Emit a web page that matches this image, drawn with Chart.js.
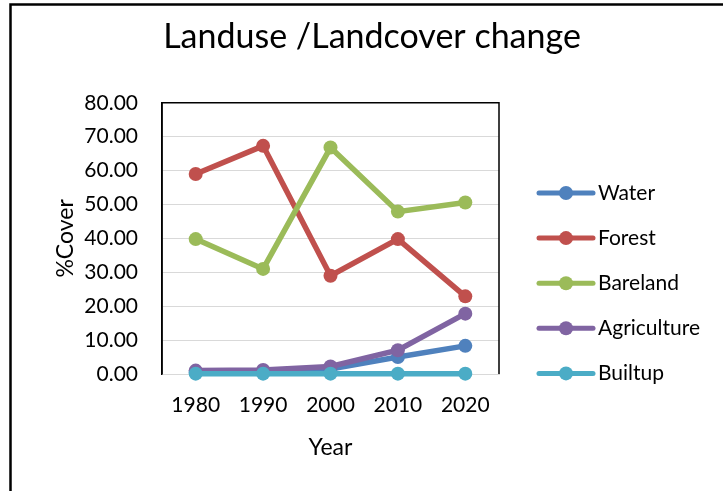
<!DOCTYPE html>
<html>
<head>
<meta charset="utf-8">
<title>Landuse /Landcover change</title>
<script src="https://cdn.jsdelivr.net/npm/chart.js@4"></script>
<style>
  html, body { margin: 0; padding: 0; background: #fff; }
  canvas { display: block; }
</style>
</head>
<body>
<canvas id="landChart" width="723" height="491"></canvas>
<script>
// data
const years = ["1980", "1990", "2000", "2010", "2020"];
const water = [0.5, 0.7, 1.5, 5.0, 8.3];
const forest = [59.0, 67.3, 29.0, 39.8, 22.9];
const bareland = [39.8, 31.0, 66.8, 47.9, 50.6];
const agriculture = [1.0, 1.2, 2.2, 7.0, 17.8];
const builtup = [0.1, 0.1, 0.1, 0.1, 0.1];
const yTicks = [0, 10, 20, 30, 40, 50, 60, 70, 80];

const FONT = "Lato";

// excel 2010 colours
const series = [
  { label: "Water", data: water, color: "#4F81BD" },
  { label: "Forest", data: forest, color: "#C0504D" },
  { label: "Bareland", data: bareland, color: "#9BBB59" },
  { label: "Agriculture", data: agriculture, color: "#8064A2" },
  { label: "Builtup", data: builtup, color: "#4BACC6" },
];

// frame around the whole chart + plot area border
const framePlugin = {
  id: "frame",
  beforeDatasetsDraw(chart) {
    const { ctx, chartArea: a } = chart;
    ctx.save();
    ctx.strokeStyle = "#000";
    ctx.lineWidth = 1.5;
    ctx.beginPath();
    ctx.moveTo(a.left, a.bottom);
    ctx.lineTo(a.left, a.top);
    ctx.lineTo(a.right, a.top);
    ctx.lineTo(a.right, a.bottom);
    ctx.stroke();
    ctx.restore();
  },
  afterDraw(chart) {
    const ctx = chart.ctx;
    ctx.save();
    ctx.strokeStyle = "#000";
    ctx.lineWidth = 2.5;
    ctx.beginPath();
    ctx.moveTo(10.5, chart.height);
    ctx.lineTo(10.5, 4.5);
    ctx.lineTo(chart.width, 4.5);
    ctx.stroke();
    ctx.restore();
  },
};

// legend on the right: line with a marker, like excel
const sideLegend = {
  id: "sideLegend",
  afterDraw(chart) {
    const ctx = chart.ctx;
    ctx.save();
    ctx.font = "21px " + FONT;
    ctx.textBaseline = "middle";
    ctx.textAlign = "left";
    chart.data.datasets.forEach((ds, i) => {
      const y = 193 + i * 45.1;
      ctx.strokeStyle = ds.borderColor;
      ctx.lineWidth = 5;
      ctx.lineCap = "round";
      ctx.beginPath();
      ctx.moveTo(539, y);
      ctx.lineTo(593, y);
      ctx.stroke();
      ctx.fillStyle = ds.borderColor;
      ctx.beginPath();
      ctx.arc(566, y, 7, 0, Math.PI * 2);
      ctx.fill();
      ctx.fillStyle = "#000";
      ctx.fillText(ds.label, 598, y);
    });
    ctx.restore();
  },
};

new Chart(document.getElementById("landChart"), {
  type: "line",
  data: {
    labels: years,
    datasets: series.map((s, i) => ({
      label: s.label,
      data: s.data,
      borderColor: s.color,
      backgroundColor: s.color,
      borderWidth: 5.5,
      pointRadius: 7,
      pointHoverRadius: 7,
      pointBorderWidth: 0,
      tension: 0,
      clip: false,
      order: series.length - i, // later series on top, like excel
    })),
  },
  options: {
    responsive: false,
    animation: false,
    layout: { padding: { left: 21, right: 0, top: 0, bottom: 17 } },
    plugins: {
      legend: { display: false },
      tooltip: { enabled: false },
      title: {
        display: true,
        text: "Landuse /Landcover change",
        color: "#000",
        font: { family: FONT, size: 34, weight: "normal", lineHeight: 1.2 },
        padding: { top: 17, bottom: 45 },
      },
    },
    scales: {
      x: {
        offset: true,
        grid: { display: false, drawTicks: false },
        border: { color: "#D9D9D9", width: 1 },
        ticks: {
          color: "#000",
          padding: 19,
          font: { family: FONT, size: 21 },
        },
        title: {
          display: true,
          text: "Year",
          color: "#000",
          font: { family: FONT, size: 23 },
          padding: { top: 0, bottom: 13 },
        },
        afterFit(scale) { scale.height = 100; },
      },
      y: {
        min: 0,
        max: 80,
        grid: { color: "#D9D9D9", lineWidth: 1, drawTicks: false },
        border: { color: "#000", width: 1.5 },
        afterBuildTicks(scale) {
          scale.ticks = yTicks.map((v) => ({ value: v }));
        },
        ticks: {
          color: "#000",
          padding: 24,
          font: { family: FONT, size: 21 },
          callback: (v) => Number(v).toFixed(2),
        },
        title: {
          display: true,
          text: "%Cover",
          color: "#000",
          font: { family: FONT, size: 23 },
          padding: { top: 31, bottom: 0 },
        },
        afterFit(scale) { scale.width = 141; },
      },
      // empty axis that only keeps room for the legend
      spacer: {
        position: "right",
        display: true,
        grid: { display: false, drawTicks: false },
        border: { display: false },
        ticks: { display: false },
        afterFit(scale) { scale.width = 224; },
      },
    },
  },
  plugins: [framePlugin, sideLegend],
});
</script>
</body>
</html>
